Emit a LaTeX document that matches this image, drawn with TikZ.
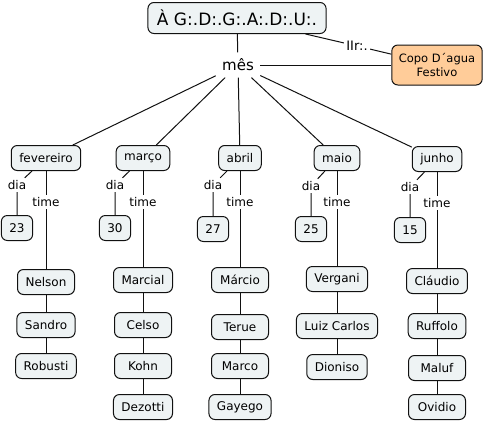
\documentclass[tikz,border=0pt]{standalone}
\usepackage{fontspec}
\setmainfont{DejaVu Sans}

\definecolor{boxfill}{HTML}{EEF3F4}
\definecolor{copofill}{HTML}{FFCC99}
\definecolor{boxline}{HTML}{111111}

\begin{document}
\begin{tikzpicture}[x=1pt, y=-1pt, line width=1pt, draw=boxline,
	concept/.style={draw=boxline, fill=boxfill, rounded corners=6pt, inner xsep=8pt, inner ysep=2pt, minimum height=25pt, font=\fontsize{12}{14}\selectfont},
	person/.style={concept, minimum width=57pt},
	lbl/.style={inner sep=2pt, font=\fontsize{12}{14}\selectfont}]
	\useasboundingbox (0,0) rectangle (484,424);
	% top
	\node [concept, minimum height=31pt, inner xsep=9pt, font=\fontsize{17}{20}\selectfont] (root) at (237,18) {À G:.D:.G:.A:.D:.U:.};
	\node [lbl, inner sep=6pt, font=\fontsize{15}{18}\selectfont] (mes) at (238,65) {mês};
	\node [concept, fill=copofill, align=center, inner xsep=7pt, minimum height=40pt, font=\fontsize{11.5}{13.5}\selectfont] (copo) at (437,65) {Copo D´agua\\Festivo};
	\node [lbl, font=\fontsize{13}{15}\selectfont] (iir) at (357,46) {IIr:.};
	\draw (root) -- (mes);
	\draw (root) -- (iir) -- (copo);
	\draw (mes) -- (copo);
	% meses
	\node [concept] (fev) at (46,158) {fevereiro};
	\node [concept] (mar) at (143,158) {março};
	\node [concept] (abr) at (240,158) {abril};
	\node [concept] (mai) at (337,158) {maio};
	\node [concept] (jun) at (437,159) {junho};
	\draw (mes) -- (fev);
	\draw (mes) -- (mar);
	\draw (mes) -- (abr);
	\draw (mes) -- (mai);
	\draw (mes) -- (jun);
	% dia
	\node [lbl] (diafev) at (17,185) {dia};
	\node [lbl] (diamar) at (115,185) {dia};
	\node [lbl] (diaabr) at (213,185) {dia};
	\node [lbl] (diamai) at (311,186) {dia};
	\node [lbl] (diajun) at (410,187) {dia};
	\node [concept] (d23) at (17,228) {23};
	\node [concept] (d30) at (115,228) {30};
	\node [concept] (d27) at (213,229) {27};
	\node [concept] (d25) at (311,229) {25};
	\node [concept] (d15) at (410,230) {15};
	\draw (fev) -- (diafev) -- (d23);
	\draw (mar) -- (diamar) -- (d30);
	\draw (abr) -- (diaabr) -- (d27);
	\draw (mai) -- (diamai) -- (d25);
	\draw (jun) -- (diajun) -- (d15);
	% time
	\node [lbl] (timefev) at (46,202) {time};
	\node [lbl] (timemar) at (143,202) {time};
	\node [lbl] (timeabr) at (240,202) {time};
	\node [lbl] (timemai) at (337,202) {time};
	\node [lbl] (timejun) at (437,203) {time};
	% fevereiro
	\node [person] (nelson) at (46,282) {Nelson};
	\node [person] (sandro) at (46,325) {Sandro};
	\node [person] (robusti) at (46,366) {Robusti};
	\draw (fev) -- (timefev) -- (nelson) -- (sandro) -- (robusti);
	% marco
	\node [person] (marcial) at (143,280) {Marcial};
	\node [person] (celso) at (143,325) {Celso};
	\node [person] (kohn) at (143,366) {Kohn};
	\node [person] (dezotti) at (143,407) {Dezotti};
	\draw (mar) -- (timemar) -- (marcial) -- (celso) -- (kohn) -- (dezotti);
	% abril
	\node [person] (marcio) at (240,280) {Márcio};
	\node [person] (terue) at (240,327) {Terue};
	\node [person] (marco) at (240,366) {Marco};
	\node [person] (gayego) at (240,407) {Gayego};
	\draw (abr) -- (timeabr) -- (marcio) -- (terue) -- (marco) -- (gayego);
	% maio
	\node [person] (vergani) at (337,279) {Vergani};
	\node [person] (luiz) at (337,326) {Luiz Carlos};
	\node [person] (dioniso) at (337,367) {Dioniso};
	\draw (mai) -- (timemai) -- (vergani) -- (luiz) -- (dioniso);
	% junho
	\node [person] (claudio) at (437,281) {Cláudio};
	\node [person] (ruffolo) at (437,326) {Ruffolo};
	\node [person] (maluf) at (437,368) {Maluf};
	\node [person] (ovidio) at (437,407) {Ovidio};
	\draw (jun) -- (timejun) -- (claudio) -- (ruffolo) -- (maluf) -- (ovidio);
\end{tikzpicture}
\end{document}
